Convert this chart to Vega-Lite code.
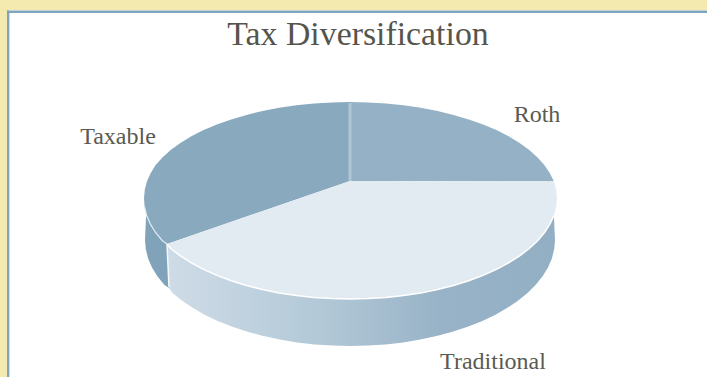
{
  "$schema": "https://vega.github.io/schema/vega-lite/v6.json",
  "width": 707,
  "height": 377,
  "padding": 0,
  "autosize": {"type": "none"},
  "background": "#F4E9AE",
  "config": {"view": {"stroke": null}},
  "datasets": {
    "panel": [
      {"part": "card", "x": -343, "x2": 357, "y": 171, "y2": -196},
      {"part": "rule", "x": -343, "x2": 357, "y": 170.5, "y2": 168},
      {"part": "rule", "x": -343, "x2": -341, "y": 170.5, "y2": -196},
      {"part": "glow", "x": -341, "x2": -340, "y": 168, "y2": -196}
    ],
    "roth": [
      {"i":0,"x":0,"y":0},{"i":1,"x":203.9,"y":-0.3},{"i":2,"x":199.9,"y":7.8},{"i":3,"x":194.5,"y":15.8},{"i":4,"x":187.6,"y":23.6},{"i":5,"x":179.3,"y":31},{"i":6,"x":169.6,"y":38.1},{"i":7,"x":158.6,"y":44.7},{"i":8,"x":146.4,"y":50.9},{"i":9,"x":133.1,"y":56.5},{"i":10,"x":118.7,"y":61.6},{"i":11,"x":103.5,"y":66.1},{"i":12,"x":87.5,"y":70},{"i":13,"x":70.8,"y":73.2},{"i":14,"x":53.6,"y":75.7},{"i":15,"x":35.9,"y":77.5},{"i":16,"x":18,"y":78.6},{"i":17,"x":0,"y":79}
    ],
    "taxable": [
      {"i":0,"x":0,"y":0},{"i":1,"x":0,"y":79},{"i":2,"x":-18,"y":78.6},{"i":3,"x":-35.9,"y":77.5},{"i":4,"x":-53.6,"y":75.7},{"i":5,"x":-70.8,"y":73.2},{"i":6,"x":-87.5,"y":70},{"i":7,"x":-103.5,"y":66.1},{"i":8,"x":-118.7,"y":61.6},{"i":9,"x":-133.1,"y":56.5},{"i":10,"x":-146.4,"y":50.9},{"i":11,"x":-158.6,"y":44.7},{"i":12,"x":-169.6,"y":38.1},{"i":13,"x":-179.3,"y":31},{"i":14,"x":-187.6,"y":23.6},{"i":15,"x":-194.5,"y":15.8},{"i":16,"x":-199.4,"y":7.8},{"i":17,"x":-203,"y":-0.3},{"i":18,"x":-205.2,"y":-8.6},{"i":19,"x":-206,"y":-17},{"i":20,"x":-205.4,"y":-25.8},{"i":21,"x":-203.4,"y":-34.5},{"i":22,"x":-199.6,"y":-43.1},{"i":23,"x":-194.5,"y":-51.5},{"i":24,"x":-187.6,"y":-59.7},{"i":25,"x":-183,"y":-63}
    ],
    "traditional": [
      {"i":0,"x":0,"y":0},{"i":1,"x":203.9,"y":-0.3},{"i":2,"x":206.2,"y":-8.6},{"i":3,"x":207,"y":-17},{"i":4,"x":206.2,"y":-25.8},{"i":5,"x":203.9,"y":-34.5},{"i":6,"x":199.9,"y":-43.1},{"i":7,"x":194.5,"y":-51.5},{"i":8,"x":187.6,"y":-59.7},{"i":9,"x":179.3,"y":-67.5},{"i":10,"x":169.6,"y":-74.9},{"i":11,"x":158.6,"y":-81.9},{"i":12,"x":146.4,"y":-88.4},{"i":13,"x":133.1,"y":-94.4},{"i":14,"x":118.7,"y":-99.7},{"i":15,"x":103.5,"y":-104.5},{"i":16,"x":87.5,"y":-108.5},{"i":17,"x":70.8,"y":-111.9},{"i":18,"x":53.6,"y":-114.6},{"i":19,"x":35.9,"y":-116.5},{"i":20,"x":18,"y":-117.6},{"i":21,"x":0,"y":-118},{"i":22,"x":-18,"y":-117.6},{"i":23,"x":-35.9,"y":-116.5},{"i":24,"x":-53.6,"y":-114.6},{"i":25,"x":-70.8,"y":-111.9},{"i":26,"x":-87.5,"y":-108.5},{"i":27,"x":-103.5,"y":-104.5},{"i":28,"x":-118.7,"y":-99.7},{"i":29,"x":-133.1,"y":-94.4},{"i":30,"x":-146.4,"y":-88.4},{"i":31,"x":-158.6,"y":-81.9},{"i":32,"x":-169.6,"y":-74.9},{"i":33,"x":-179.3,"y":-67.5},{"i":34,"x":-183,"y":-63}
    ],
    "traditionalWall": [
      {"i":0,"x":-183,"y":-63},{"i":1,"x":203.9,"y":-34.5},{"i":2,"x":205,"y":-59},{"i":3,"x":204.2,"y":-68.2},{"i":4,"x":201.9,"y":-77.4},{"i":5,"x":198,"y":-86.4},{"i":6,"x":192.6,"y":-95.3},{"i":7,"x":185.8,"y":-103.8},{"i":8,"x":177.5,"y":-112},{"i":9,"x":167.9,"y":-119.8},{"i":10,"x":157,"y":-127.1},{"i":11,"x":145,"y":-134},{"i":12,"x":131.8,"y":-140.2},{"i":13,"x":117.6,"y":-145.8},{"i":14,"x":102.5,"y":-150.8},{"i":15,"x":86.6,"y":-155.1},{"i":16,"x":70.1,"y":-158.6},{"i":17,"x":53.1,"y":-161.4},{"i":18,"x":35.6,"y":-163.4},{"i":19,"x":17.9,"y":-164.6},{"i":20,"x":0,"y":-165},{"i":21,"x":-17.9,"y":-164.6},{"i":22,"x":-35.6,"y":-163.4},{"i":23,"x":-53.1,"y":-161.4},{"i":24,"x":-70.1,"y":-158.6},{"i":25,"x":-86.6,"y":-155.1},{"i":26,"x":-102.5,"y":-150.8},{"i":27,"x":-117.6,"y":-145.8},{"i":28,"x":-131.8,"y":-140.2},{"i":29,"x":-145,"y":-134},{"i":30,"x":-157,"y":-127.1},{"i":31,"x":-167.9,"y":-119.8},{"i":32,"x":-177.5,"y":-112},{"i":33,"x":-181,"y":-107}
    ],
    "taxableWall": [
      {"i":0,"x":-183,"y":-63},{"i":1,"x":-181,"y":-107},{"i":2,"x":-185.8,"y":-103.8},{"i":3,"x":-192.6,"y":-95.3},{"i":4,"x":-198,"y":-86.4},{"i":5,"x":-201.9,"y":-77.4},{"i":6,"x":-204.2,"y":-68.2},{"i":7,"x":-205,"y":-59},{"i":8,"x":-203.9,"y":-34.5}
    ],
    "seam": [{"i":0,"x":0,"y":0},{"i":1,"x":0,"y":78}],
    "wallSeam": [{"i":0,"x":-183,"y":-63},{"i":1,"x":-181,"y":-106}],
    "labels": [
      {"label":"Roth","x":187,"y":59},
      {"label":"Taxable","x":-232,"y":37},
      {"label":"Traditional","x":143,"y":-188}
    ],
    "heading": [{"label":"Tax Diversification","x":8,"y":136}]
  },
  "encoding": {
    "x": {"field":"x","type":"quantitative","axis":null,"scale":{"domain":[-350,357],"nice":false,"zero":false}},
    "y": {"field":"y","type":"quantitative","axis":null,"scale":{"domain":[-196,181],"nice":false,"zero":false}}
  },
  "layer": [
    {
      "data":{"name":"panel"},
      "mark":{"type":"rect"},
      "encoding":{
        "x2":{"field":"x2"},
        "y2":{"field":"y2"},
        "color":{"field":"part","type":"nominal","legend":null,"scale":{"domain":["card","rule","glow"],"range":["#FFFFFF","#7FA5BC","#CFE0EC"]}}
      }
    },
    {
      "data":{"name":"traditionalWall"},
      "mark":{"type":"line","strokeWidth":0,"fill":{"gradient":"linear","x1":0,"y1":0,"x2":1,"y2":0,"stops":[{"offset":0,"color":"#CFDCE7"},{"offset":0.4,"color":"#B2C8D7"},{"offset":0.7,"color":"#98B3C7"},{"offset":1,"color":"#93AFC3"}]}},
      "encoding":{"order":{"field":"i","type":"quantitative"}}
    },
    {
      "data":{"name":"taxableWall"},
      "mark":{"type":"line","strokeWidth":0,"fill":"#80A3BA"},
      "encoding":{"order":{"field":"i","type":"quantitative"}}
    },
    {
      "data":{"name":"wallSeam"},
      "mark":{"type":"line","stroke":"#F4F8FB","strokeWidth":1.5},
      "encoding":{"order":{"field":"i","type":"quantitative"}}
    },
    {
      "data":{"name":"roth"},
      "mark":{"type":"line","strokeWidth":0,"fill":"#94B1C5"},
      "encoding":{"order":{"field":"i","type":"quantitative"}}
    },
    {
      "data":{"name":"taxable"},
      "mark":{"type":"line","strokeWidth":0,"fill":"#88A9BE"},
      "encoding":{"order":{"field":"i","type":"quantitative"}}
    },
    {
      "data":{"name":"traditional"},
      "mark":{"type":"line","strokeWidth":0,"fill":"#E3EBF2"},
      "encoding":{"order":{"field":"i","type":"quantitative"}}
    },
    {
      "data":{"name":"traditional"},
      "transform":[{"filter":"datum.i >= 5"}],
      "mark":{"type":"line","stroke":"#FFFFFF","strokeWidth":1.5},
      "encoding":{"order":{"field":"i","type":"quantitative"}}
    },
    {
      "data":{"name":"taxable"},
      "transform":[{"filter":"datum.i >= 20"}],
      "mark":{"type":"line","stroke":"#E3EBF2","strokeWidth":1.2},
      "encoding":{"order":{"field":"i","type":"quantitative"}}
    },
    {
      "data":{"name":"seam"},
      "mark":{"type":"line","stroke":"#AFC6D6","strokeWidth":3},
      "encoding":{"order":{"field":"i","type":"quantitative"}}
    },
    {
      "data":{"name":"labels"},
      "mark":{"type":"text","font":"Liberation Serif","fontSize":24,"align":"center","baseline":"alphabetic","fill":"#5A5A52"},
      "encoding":{"text":{"field":"label"}}
    },
    {
      "data":{"name":"heading"},
      "mark":{"type":"text","font":"Liberation Serif","fontSize":33.8,"align":"center","baseline":"alphabetic","fill":"#55554D"},
      "encoding":{"text":{"field":"label"}}
    }
  ]
}
